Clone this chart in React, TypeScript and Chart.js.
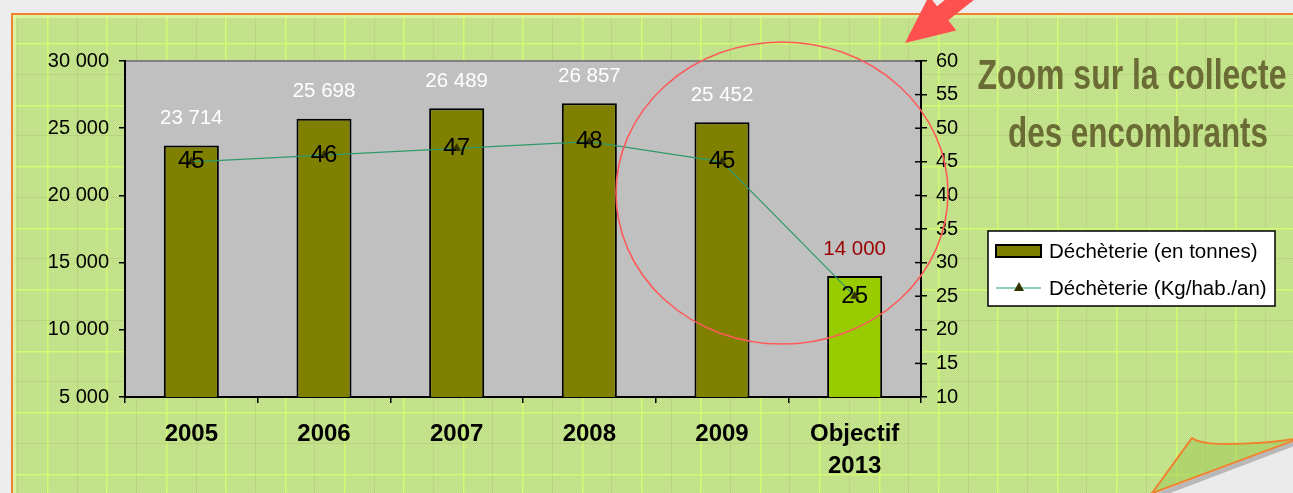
import React, { useEffect, useRef } from "react";
import { Chart, registerables } from "chart.js";

Chart.register(...registerables);

// ---------- data ----------
const categories: string[][] = [["2005"], ["2006"], ["2007"], ["2008"], ["2009"], ["Objectif", "2013"]];
const tonnes: number[] = [23714, 25698, 26489, 26857, 25452, 14000];
const kgPerHab: number[] = [45, 46, 47, 48, 45, 25];
const barColors: string[] = ["#808000", "#808000", "#808000", "#808000", "#808000", "#99cc00"];
const barLabelColors: string[] = ["#ffffff", "#ffffff", "#ffffff", "#ffffff", "#ffffff", "#990000"];
const leftAxis = { min: 5000, max: 30000, step: 5000 };
const rightAxis = { min: 10, max: 60, step: 5 };
const titleLines: string[] = ["Zoom sur la collecte", "des encombrants"];
const legendLabels: string[] = ["Déchèterie (en tonnes)", "Déchèterie (Kg/hab./an)"];

const FONT = '"Liberation Sans", Arial, sans-serif';
const fmt = (v: number) => String(v).replace(/\B(?=(\d{3})+(?!\d))/g, " ");

function drawBackground(ctx: CanvasRenderingContext2D, W: number, H: number) {
  ctx.save();
  ctx.fillStyle = "#ececec";
  ctx.fillRect(0, 0, W, H);
  const pc = document.createElement("canvas");
  pc.width = 2;
  pc.height = 2;
  const p = pc.getContext("2d")!;
  p.fillStyle = "#c9e98e";
  p.fillRect(0, 0, 2, 2);
  p.fillStyle = "#bddb86";
  p.fillRect(0, 0, 1, 1);
  p.fillRect(1, 1, 1, 1);
  const pat = ctx.createPattern(pc, "repeat")!;
  ctx.fillStyle = pat;
  ctx.fillRect(12, 14, W - 12, H - 14);
  ctx.beginPath();
  ctx.rect(12, 14, W - 12, H - 14);
  ctx.clip();
  for (let x = 47 - 59.4; x < W; x += 59.4) {
    ctx.fillStyle = "rgba(214,255,110,0.85)";
    ctx.fillRect(Math.round(x), 14, 1.5, H);
    ctx.fillStyle = "rgba(150,170,100,0.25)";
    ctx.fillRect(Math.round(x + 29.7), 14, 1, H);
  }
  for (let y = 43 - 61.5; y < H; y += 61.5) {
    ctx.fillStyle = "rgba(214,255,110,0.85)";
    ctx.fillRect(12, Math.round(y), W, 1.5);
    ctx.fillStyle = "rgba(150,170,100,0.25)";
    ctx.fillRect(12, Math.round(y + 30.7), W, 1);
  }
  ctx.fillStyle = "rgba(225,250,170,0.7)";
  ctx.fillRect(12, 14, W, 4);
  ctx.fillRect(12, 14, 4, H);
  ctx.restore();
  ctx.save();
  ctx.strokeStyle = "#f0822f";
  ctx.lineWidth = 2;
  ctx.beginPath();
  ctx.moveTo(12, H + 2);
  ctx.lineTo(12, 14);
  ctx.lineTo(W + 2, 14);
  ctx.stroke();
  ctx.restore();
}

function drawCurl(ctx: CanvasRenderingContext2D, W: number, H: number) {
  ctx.save();
  ctx.fillStyle = "#ebebeb";
  ctx.beginPath();
  ctx.moveTo(1153, H);
  ctx.lineTo(W, 440);
  ctx.lineTo(W, H);
  ctx.closePath();
  ctx.fill();
  ctx.save();
  ctx.beginPath();
  ctx.moveTo(1153, H);
  ctx.lineTo(W, 440);
  ctx.lineTo(W, H);
  ctx.closePath();
  ctx.clip();
  ctx.strokeStyle = "rgba(150,150,150,0.6)";
  ctx.lineWidth = 5;
  ctx.beginPath();
  ctx.moveTo(1158, H + 2);
  ctx.lineTo(W + 5, 442);
  ctx.stroke();
  ctx.restore();
  ctx.fillStyle = "rgba(160,200,90,0.55)";
  ctx.beginPath();
  ctx.moveTo(1153, H);
  ctx.lineTo(1192, 438);
  ctx.quadraticCurveTo(1200, 444, 1225, 444);
  ctx.quadraticCurveTo(1265, 444, W, 439);
  ctx.lineTo(W, 440);
  ctx.closePath();
  ctx.fill();
  ctx.strokeStyle = "#f0822f";
  ctx.lineWidth = 2;
  ctx.beginPath();
  ctx.moveTo(1150, H + 3);
  ctx.lineTo(1192, 438);
  ctx.quadraticCurveTo(1200, 444, 1225, 444);
  ctx.quadraticCurveTo(1265, 444, W + 2, 439);
  ctx.stroke();
  ctx.beginPath();
  ctx.moveTo(1150, H + 1);
  ctx.lineTo(W + 2, 440);
  ctx.stroke();
  ctx.restore();
}

function drawArrow(ctx: CanvasRenderingContext2D) {
  const tip = { x: 905, y: 43 };
  const d = { x: 0.784, y: -0.621 };
  const n = { x: 0.621, y: 0.784 };
  const L = 48, HW = 22, SW = 9, SL = 130;
  const bx = tip.x + d.x * L, by = tip.y + d.y * L;
  ctx.save();
  ctx.fillStyle = "#ff5050";
  ctx.beginPath();
  ctx.moveTo(tip.x, tip.y);
  ctx.lineTo(bx + n.x * HW, by + n.y * HW);
  ctx.lineTo(bx + n.x * SW, by + n.y * SW);
  ctx.lineTo(tip.x + d.x * SL + n.x * SW, tip.y + d.y * SL + n.y * SW);
  ctx.lineTo(tip.x + d.x * SL - n.x * SW, tip.y + d.y * SL - n.y * SW);
  ctx.lineTo(bx - n.x * SW, by - n.y * SW);
  ctx.lineTo(bx - n.x * HW, by - n.y * HW);
  ctx.closePath();
  ctx.fill();
  ctx.restore();
}

function drawTitle(ctx: CanvasRenderingContext2D) {
  const specs = [
    { cx: 1132, base: 89, w: 309 },
    { cx: 1138, base: 147, w: 260 },
  ];
  ctx.save();
  ctx.fillStyle = "#6b6b35";
  ctx.font = 'bold 42px "Liberation Sans", Arial, sans-serif';
  ctx.textAlign = "center";
  ctx.textBaseline = "alphabetic";
  titleLines.forEach((t, i) => {
    const s = specs[i];
    const mw = ctx.measureText(t).width;
    ctx.save();
    ctx.translate(s.cx, s.base);
    ctx.scale(s.w / mw, 1);
    ctx.fillText(t, 0, 0);
    ctx.restore();
  });
  ctx.restore();
}

function drawLegend(ctx: CanvasRenderingContext2D) {
  ctx.save();
  ctx.fillStyle = "#ffffff";
  ctx.fillRect(988, 231, 287, 75);
  ctx.strokeStyle = "#000";
  ctx.lineWidth = 1.5;
  ctx.strokeRect(988, 231, 287, 75);
  ctx.fillStyle = barColors[0];
  ctx.fillRect(996, 245, 45, 12);
  ctx.lineWidth = 2;
  ctx.strokeRect(996, 245, 45, 12);
  ctx.strokeStyle = "#8fd0b0";
  ctx.lineWidth = 2;
  ctx.beginPath();
  ctx.moveTo(996, 288);
  ctx.lineTo(1041, 288);
  ctx.stroke();
  ctx.fillStyle = "#333300";
  ctx.beginPath();
  ctx.moveTo(1019, 282);
  ctx.lineTo(1024, 291);
  ctx.lineTo(1014, 291);
  ctx.closePath();
  ctx.fill();
  ctx.fillStyle = "#000";
  ctx.font = `20.5px ${FONT}`;
  ctx.textAlign = "left";
  ctx.textBaseline = "middle";
  ctx.fillText(legendLabels[0], 1049, 252);
  ctx.fillText(legendLabels[1], 1049, 289);
  ctx.restore();
}

const decorPlugin = {
  id: "decor",
  beforeDraw(chart: any) {
    const { ctx, width, height, chartArea: a } = chart;
    drawBackground(ctx, width, height);
    ctx.save();
    ctx.fillStyle = "#c0c0c0";
    ctx.fillRect(a.left, a.top, a.right - a.left, a.bottom - a.top);
    ctx.strokeStyle = "#808080";
    ctx.lineWidth = 2;
    ctx.beginPath();
    ctx.moveTo(a.left, a.top);
    ctx.lineTo(a.right, a.top);
    ctx.stroke();
    ctx.restore();
  },
  afterDatasetsDraw(chart: any) {
    const { ctx } = chart;
    const bars = chart.getDatasetMeta(0).data;
    const pts = chart.getDatasetMeta(1).data;
    ctx.save();
    ctx.textAlign = "center";
    ctx.textBaseline = "middle";
    ctx.font = `20.5px ${FONT}`;
    bars.forEach((b: any, i: number) => {
      ctx.fillStyle = barLabelColors[i];
      ctx.fillText(fmt(tonnes[i]), b.x, b.y - 27);
    });
    ctx.font = `24px ${FONT}`;
    ctx.fillStyle = "#000";
    pts.forEach((p: any, i: number) => {
      ctx.fillText(String(kgPerHab[i]), p.x, p.y);
    });
    ctx.restore();
  },
  afterDraw(chart: any) {
    const { ctx, width, height, chartArea: a } = chart;
    const y1 = chart.scales.y1;
    ctx.save();
    ctx.strokeStyle = "#000";
    ctx.lineWidth = 1.5;
    y1.ticks.forEach((t: any) => {
      const py = y1.getPixelForValue(t.value);
      ctx.beginPath();
      ctx.moveTo(a.right - 6, py);
      ctx.lineTo(a.right, py);
      ctx.stroke();
    });
    ctx.restore();
    ctx.save();
    ctx.strokeStyle = "#ff5a5a";
    ctx.lineWidth = 1.6;
    ctx.beginPath();
    ctx.ellipse(782, 193, 166, 151, 0, 0, Math.PI * 2);
    ctx.stroke();
    ctx.restore();
    drawArrow(ctx);
    drawTitle(ctx);
    drawLegend(ctx);
    drawCurl(ctx, width, height);
  },
};

export default function App() {
  const ref = useRef<HTMLCanvasElement | null>(null);
  useEffect(() => {
    if (!ref.current) return;
    const tickFont = { family: FONT, size: 20 };
    const chart = new Chart(ref.current, {
      type: "bar",
      data: {
        labels: categories as any,
        datasets: [
          {
            type: "bar",
            label: legendLabels[0],
            data: tonnes,
            yAxisID: "y",
            backgroundColor: barColors,
            borderColor: "#000",
            borderWidth: 2,
            barPercentage: 0.415,
            categoryPercentage: 1,
            order: 2,
          } as any,
          {
            type: "line",
            label: legendLabels[1],
            data: kgPerHab,
            yAxisID: "y1",
            borderColor: "#2f9a6a",
            borderWidth: 1.2,
            pointStyle: "triangle",
            pointRadius: 4,
            pointBackgroundColor: "#333300",
            pointBorderColor: "#333300",
            order: 1,
          } as any,
        ],
      },
      options: {
        responsive: false,
        animation: false,
        devicePixelRatio: 1,
        layout: { padding: { top: 61, left: 0, right: 0, bottom: 0 } },
        plugins: { legend: { display: false }, title: { display: false }, tooltip: { enabled: false } },
        scales: {
          x: {
            type: "category",
            offset: true,
            grid: { offset: true, drawOnChartArea: false, tickLength: 6, color: "#000", lineWidth: 1.5 },
            border: { display: true, color: "#000", width: 2 },
            ticks: {
              color: "#000",
              font: { family: FONT, size: 24, weight: "bold", lineHeight: 1.35 },
              padding: 15,
              maxRotation: 0,
              autoSkip: false,
            },
            afterFit: (s: any) => {
              s.height = 96;
            },
          },
          y: {
            position: "left",
            min: leftAxis.min,
            max: leftAxis.max,
            ticks: { stepSize: leftAxis.step, color: "#000", font: tickFont, padding: 10, callback: (v: any) => fmt(Number(v)) },
            grid: { drawOnChartArea: false, tickLength: 6, color: "#000", lineWidth: 1.5 },
            border: { color: "#000", width: 2 },
            afterFit: (s: any) => {
              s.width = 125;
            },
          },
          y1: {
            position: "right",
            min: rightAxis.min,
            max: rightAxis.max,
            ticks: { stepSize: rightAxis.step, color: "#000", font: tickFont, padding: 9 },
            grid: { drawOnChartArea: false, tickLength: 6, color: "#000", lineWidth: 1.5 },
            border: { color: "#000", width: 2 },
            afterFit: (s: any) => {
              s.width = 372;
            },
          },
        },
      } as any,
      plugins: [decorPlugin],
    });
    return () => chart.destroy();
  }, []);
  return (
    <div style={{ position: "fixed", left: 0, top: 0, width: 1293, height: 493 }}>
      <canvas ref={ref} width={1293} height={493} style={{ display: "block", width: 1293, height: 493 }} />
    </div>
  );
}
